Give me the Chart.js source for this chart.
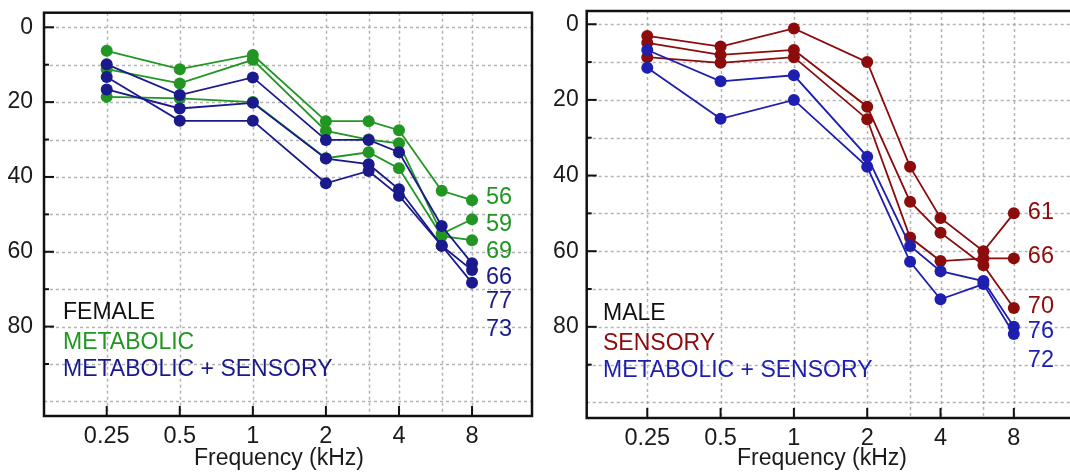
<!DOCTYPE html>
<html>
<head>
<meta charset="utf-8">
<script src="https://cdn.jsdelivr.net/npm/chart.js@4"></script>
<style>
html, body { margin: 0; padding: 0; background: #fff; overflow: hidden; }
#wrap { position: relative; width: 1070px; height: 476px; overflow: hidden; }
.box { position: absolute; top: 0; width: 540px; height: 476px; }
</style>
</head>
<body>
<div id="wrap">
  <div class="box" style="left:0"><canvas id="femaleChart"></canvas></div>
  <div class="box" style="left:540px"><canvas id="maleChart"></canvas></div>
</div>
<script>
// Audiogram data: hearing level (dB) per frequency (kHz)
const freqs = [0.25, 0.5, 1, 2, 3, 4, 6, 8];
const freqTicks = [0.25, 0.5, 1, 2, 4, 8];
const dbTicks = [0, 20, 40, 60, 80];
const dbGrid = [0, 10, 20, 30, 40, 50, 60, 70, 80, 90, 100];

// Female panel
const femMetabolic1 = [6.3, 11.2, 7.4, 25.1, 25.1, 27.5, 43.7, 46.2];
const femMetabolic2 = [11.2, 15.0, 8.7, 27.7, 30.0, 31.0, 55.2, 51.3];
const femMetabolic3 = [18.6, 19.0, 20.0, 35.0, 33.4, 37.7, 55.8, 56.9];
const femMixed1 = [9.9, 18.1, 13.4, 30.1, 30.1, 33.4, 53.1, 63.1];
const femMixed2 = [13.3, 25.0, 25.0, 41.7, 38.4, 45.0, 58.4, 68.3];
const femMixed3 = [16.6, 21.7, 20.2, 35.1, 36.6, 43.3, 58.4, 64.9];
const femEndLabels = ['56', '59', '69', '66', '77', '73'];

// Male panel
const maleSensory1 = [3.1, 5.9, 1.1, 10.0, 37.7, 51.2, 60.0, 50.0];
const maleSensory2 = [4.9, 8.1, 6.8, 21.8, 46.9, 55.1, 63.7, 75.0];
const maleSensory3 = [8.7, 10.2, 8.7, 25.1, 56.4, 62.6, 61.9, 61.9];
const maleMixed1 = [6.8, 15.1, 13.5, 35.0, 58.6, 65.3, 67.9, 80.0];
const maleMixed2 = [11.5, 25.0, 20.0, 37.7, 62.8, 72.7, 68.7, 81.9];
const maleEndLabels = ['61', '66', '70', '76', '72'];

const GREEN = 'rgb(34,150,34)';
const NAVY = 'rgb(26,26,140)';
const BLUE = 'rgb(30,30,175)';
const RED = 'rgb(140,12,12)';
const FONT = '"Liberation Sans", Arial, sans-serif';

const toPoints = (vals) => vals.map((v, i) => ({ x: freqs[i], y: v }));

const makeSet = (vals, color) => ({
    data: toPoints(vals),
    borderColor: color,
    backgroundColor: color,
    borderWidth: 1.8,
    pointRadius: 6,
    pointBorderWidth: 0,
    pointHoverRadius: 6,
    tension: 0
});

// grid, frame, inward ticks and text labels
const decorPlugin = {
    id: 'decor',
    beforeDatasetsDraw(chart) {
        const { ctx, chartArea: a, scales: { x, y } } = chart;
        ctx.save();
        ctx.strokeStyle = 'rgba(160,160,160,0.8)';
        ctx.lineWidth = 1.5;
        ctx.setLineDash([3, 3]);
        dbGrid.forEach(v => {
            const py = Math.round(y.getPixelForValue(v)) + 0.5;
            ctx.beginPath(); ctx.moveTo(a.left, py); ctx.lineTo(a.right, py); ctx.stroke();
        });
        freqs.forEach(f => {
            const px = Math.round(x.getPixelForValue(f)) + 0.5;
            ctx.beginPath(); ctx.moveTo(px, a.top); ctx.lineTo(px, a.bottom); ctx.stroke();
        });
        ctx.restore();
    },
    afterDatasetsDraw(chart, args, opts) {
        const { ctx, chartArea: a, scales: { x, y } } = chart;
        ctx.save();
        ctx.strokeStyle = '#111';
        ctx.lineWidth = 2.5;
        ctx.strokeRect(a.left, a.top, a.right - a.left, a.bottom - a.top);
        ctx.lineWidth = 2;
        dbGrid.slice(0, 10).forEach(v => {
            const py = y.getPixelForValue(v);
            const len = dbTicks.includes(v) ? 10 : 5;
            ctx.beginPath(); ctx.moveTo(a.left, py); ctx.lineTo(a.left + len, py); ctx.stroke();
        });
        freqTicks.forEach(f => {
            const px = x.getPixelForValue(f);
            ctx.beginPath(); ctx.moveTo(px, a.bottom); ctx.lineTo(px, a.bottom - 10); ctx.stroke();
        });

        // numbers at the end of each curve
        ctx.font = '23.5px ' + FONT;
        ctx.textAlign = 'left';
        ctx.textBaseline = 'middle';
        const ex = x.getPixelForValue(8) + 14;
        opts.endLabels.forEach((t, i) => {
            ctx.fillStyle = opts.endColors[i];
            ctx.fillText(t, ex, y.getPixelForValue(opts.endPos[i]));
        });

        // group legend text
        ctx.font = '23px ' + FONT;
        opts.legend.forEach((row, i) => {
            ctx.fillStyle = row.color;
            ctx.fillText(row.text, 63, opts.legendY[i]);
        });

        // axis title
        ctx.fillStyle = '#1a1a1a';
        ctx.textAlign = 'center';
        ctx.fillText('Frequency (kHz)', opts.titleX, 459);
        ctx.restore();
    }
};

const clearPad = (axis) => {
    axis.paddingTop = 0;
    axis.paddingBottom = 0;
    axis.paddingLeft = 0;
    axis.paddingRight = 0;
};

const makeChart = (id, datasets, cfg) => {
    const ctx = document.getElementById(id).getContext('2d');
    return new Chart(ctx, {
        type: 'line',
        data: { datasets: datasets },
        plugins: [decorPlugin],
        options: {
            responsive: true,
            maintainAspectRatio: false,
            animation: false,
            events: [],
            layout: { padding: { top: cfg.padTop, right: cfg.padRight, left: 0, bottom: 0 } },
            plugins: {
                legend: { display: false },
                tooltip: { enabled: false },
                decor: cfg.decor
            },
            scales: {
                x: {
                    type: 'logarithmic',
                    min: cfg.xMin,
                    max: cfg.xMax,
                    grid: { display: false, drawTicks: false },
                    border: { display: false },
                    afterBuildTicks: (axis) => { axis.ticks = freqTicks.map(v => ({ value: v })); },
                    afterFit: (axis) => { axis.height = cfg.xHeight; clearPad(axis); },
                    ticks: {
                        autoSkip: false,
                        maxRotation: 0,
                        padding: 6,
                        color: '#1a1a1a',
                        font: { family: FONT, size: 23.5 },
                        callback: (v) => String(v)
                    }
                },
                y: {
                    type: 'linear',
                    reverse: true,
                    min: cfg.yMin,
                    max: cfg.yMax,
                    grid: { display: false, drawTicks: false },
                    border: { display: false },
                    afterBuildTicks: (axis) => { axis.ticks = dbTicks.map(v => ({ value: v })); },
                    afterFit: (axis) => { axis.width = cfg.yWidth; clearPad(axis); },
                    ticks: {
                        padding: cfg.yPad,
                        color: '#1a1a1a',
                        font: { family: FONT, size: 23 }
                    }
                }
            }
        }
    });
};

// blue sets first so they are drawn on top
makeChart('femaleChart', [
    makeSet(femMixed1, NAVY),
    makeSet(femMixed2, NAVY),
    makeSet(femMixed3, NAVY),
    makeSet(femMetabolic1, GREEN),
    makeSet(femMetabolic2, GREEN),
    makeSet(femMetabolic3, GREEN)
], {
    padTop: 12.7, padRight: 8, xHeight: 60, yWidth: 44, yPad: 11,
    xMin: 0.1379, xMax: 14.13, yMin: -3.9, yMax: 103.9,
    decor: {
        endLabels: femEndLabels,
        endColors: [GREEN, GREEN, GREEN, NAVY, NAVY, NAVY],
        endPos: [45.6, 52.6, 59.9, 66.8, 73.4, 80.7],
        legend: [
            { text: 'FEMALE', color: '#111' },
            { text: 'METABOLIC', color: GREEN },
            { text: 'METABOLIC + SENSORY', color: NAVY }
        ],
        legendY: [313, 343, 370],
        titleX: 279
    }
});

makeChart('maleChart', [
    makeSet(maleMixed1, BLUE),
    makeSet(maleMixed2, BLUE),
    makeSet(maleSensory1, RED),
    makeSet(maleSensory2, RED),
    makeSet(maleSensory3, RED)
], {
    padTop: 11, padRight: 2.4, xHeight: 58, yWidth: 46.7, yPad: 8,
    xMin: 0.141, xMax: 14.13, yMin: -3.5, yMax: 104.1,
    decor: {
        endLabels: maleEndLabels,
        endColors: [RED, RED, RED, BLUE, BLUE],
        endPos: [49.9, 61.5, 74.7, 81.3, 88.8],
        legend: [
            { text: 'MALE', color: '#111' },
            { text: 'SENSORY', color: RED },
            { text: 'METABOLIC + SENSORY', color: BLUE }
        ],
        legendY: [314, 344, 371],
        titleX: 282
    }
});
</script>
</body>
</html>
